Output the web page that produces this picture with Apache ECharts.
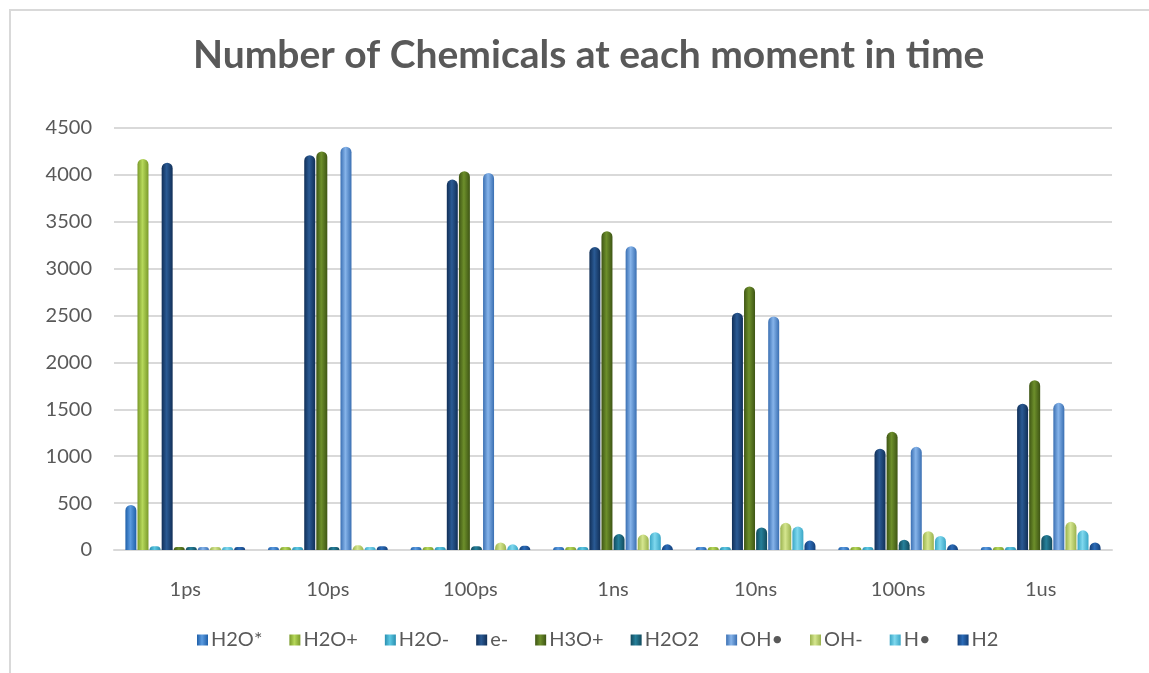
<!DOCTYPE html>
<html>
<head>
<meta charset="utf-8">
<script src="https://cdn.jsdelivr.net/npm/echarts@6/dist/echarts.min.js"></script>
<style>
  html, body { margin: 0; padding: 0; background: #fff; }
  #frame { position: absolute; left: 9px; top: 9px; width: 1140px; height: 664px;
           border-left: 2px solid #d9d9d9; border-top: 2px solid #d9d9d9; }
  #chart { position: absolute; left: 0; top: 0; width: 1149px; height: 673px; }
</style>
</head>
<body>
<div id="frame"></div>
<div id="chart"></div>
<script>
const times = ['1ps', '10ps', '100ps', '1ns', '10ns', '100ns', '1us'];
const species = ['H2O*', 'H2O+', 'H2O-', 'e-', 'H3O+', 'H2O2', 'OH•', 'OH-', 'H•', 'H2'];

const h2oStar = [480, 0, 0, 0, 0, 0, 0];
const h2oPlus = [4170, 0, 0, 0, 0, 0, 0];
const h2oMinus = [40, 0, 0, 0, 0, 0, 0];
const electron = [4130, 4210, 3950, 3230, 2530, 1080, 1560];
const h3oPlus = [0, 4250, 4040, 3400, 2810, 1260, 1810];
const h2o2 = [0, 15, 40, 170, 240, 110, 160];
const ohRad = [0, 4300, 4020, 3240, 2490, 1100, 1570];
const ohMinus = [0, 50, 80, 165, 290, 200, 300];
const hRad = [0, 30, 60, 190, 250, 150, 210];
const h2 = [0, 40, 45, 60, 100, 60, 80];

const seriesData = [h2oStar, h2oPlus, h2oMinus, electron, h3oPlus, h2o2, ohRad, ohMinus, hRad, h2];

// edge / mid colours for the cylinder look
const colors = [
  ['#1f5fa8', '#5b9be0'],
  ['#7a9a2a', '#b6d85a'],
  ['#2a8fb0', '#5cc8e3'],
  ['#112f57', '#2a5a94'],
  ['#3e5514', '#6d8f2b'],
  ['#124a5c', '#26809a'],
  ['#3a6fb2', '#86b4ea'],
  ['#9ab24e', '#d5e68f'],
  ['#3aa6c6', '#7fd8ee'],
  ['#143f78', '#2c6cb8'],
];

const chart = echarts.init(document.getElementById('chart'));

const textColor = '#595959';
const font = 'Lato, "Open Sans", sans-serif';

chart.setOption({
  animation: false,
  title: {
    text: 'Number of Chemicals at each moment in time',
    left: 188,
    top: 31,
    textStyle: {
      fontFamily: font,
      fontSize: 39,
      fontWeight: 'bold',
      color: textColor,
    },
  },
  legend: {
    bottom: 18,
    left: 192,
    icon: 'rect',
    itemWidth: 11,
    itemHeight: 11,
    itemGap: 27,
    textStyle: {
      fontFamily: font,
      fontSize: 20,
      color: textColor,
      padding: [0, 0, 0, -2],
    },
    data: species,
  },
  grid: {
    left: 114,
    right: 37,
    top: 128,
    bottom: 123,
  },
  xAxis: {
    type: 'category',
    data: times,
    axisLine: { lineStyle: { color: '#d9d9d9', width: 2 } },
    axisTick: { show: false },
    axisLabel: {
      margin: 30,
      fontFamily: font,
      fontSize: 20,
      color: textColor,
    },
  },
  yAxis: {
    type: 'value',
    min: 0,
    max: 4500,
    interval: 500,
    axisLine: { show: false },
    axisTick: { show: false },
    axisLabel: {
      margin: 22,
      fontFamily: font,
      fontSize: 20,
      color: textColor,
      formatter: (v) => String(v),
    },
    splitLine: { lineStyle: { color: '#d9d9d9', width: 2 } },
  },
  series: species.map((name, i) => ({
    name,
    type: 'bar',
    data: seriesData[i],
    barGap: '10%',
    barCategoryGap: '16%',
    barMinHeight: 3,
    itemStyle: {
      borderRadius: [6, 6, 0, 0],
      color: new echarts.graphic.LinearGradient(0, 0, 1, 0, [
        { offset: 0, color: colors[i][0] },
        { offset: 0.45, color: colors[i][1] },
        { offset: 1, color: colors[i][0] },
      ]),
    },
  })),
  color: colors.map(c => c[1]),
});
</script>
</body>
</html>
